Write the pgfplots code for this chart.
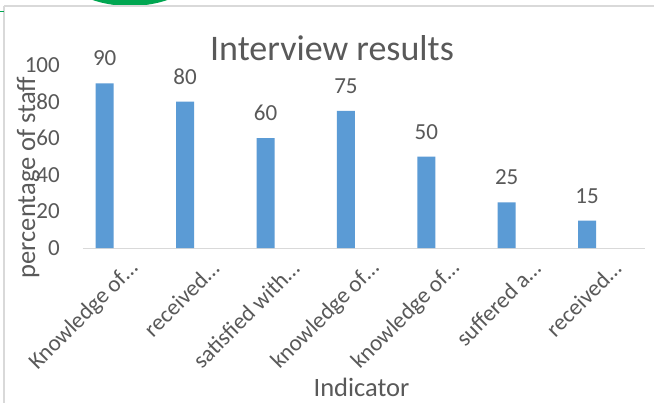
\documentclass[border=0pt]{standalone}
\usepackage{fontspec}
\setmainfont{Carlito}
\usepackage{pgfplots}
\pgfplotsset{compat=1.18}
\definecolor{txt}{HTML}{595959}
\definecolor{barblue}{HTML}{5B9BD5}
\definecolor{gridgray}{HTML}{D9D9D9}
\definecolor{logogreen}{HTML}{00A651}
\begin{document}
\begin{tikzpicture}
\useasboundingbox (0pt,0pt) rectangle (654pt,-403pt);
\fill[white] (0pt,0pt) rectangle (654pt,-403pt);
\begin{scope}
\clip (0pt,0pt) rectangle (654pt,-403pt);
\fill[logogreen] (130pt,114pt) circle (120pt);
\end{scope}
\draw[gridgray, line width=1.2pt] (4pt,-6pt) -- (654pt,-6pt);
\draw[gridgray, line width=1.2pt] (4pt,-6pt) -- (4pt,-403pt);
\draw[logogreen, line width=1pt] (0pt,-11.7pt) -- (4pt,-11.7pt);
\begin{axis}[
  at={(83pt,-248pt)}, anchor=south west,
  scale only axis, width=562pt, height=183pt,
  xmin=-0.27, xmax=6.72, ymin=0, ymax=100,
  ybar, bar width=18pt,
  axis x line*=bottom, axis y line*=left,
  x axis line style={draw=gridgray, line width=1pt, -},
  y axis line style={draw=none, -},
  major tick length=0pt,
  ytick={0,20,...,100},
  xtick={0,...,6},
  xticklabels={Knowledge of…, received…, satisfied with…, knowledge of…, knowledge of…, suffered a…, received…},
  tick label style={font=\fontsize{23}{27}\selectfont, text=txt, inner sep=0pt},
  yticklabel style={anchor=east, xshift=-23pt},
  xticklabel style={anchor=east, xshift=30pt, yshift=-17pt, rotate=45},
  nodes near coords,
  every node near coord/.append style={font=\fontsize{23}{27}\selectfont, text=txt, inner sep=0pt, anchor=south, yshift=17pt},
  /pgf/number format/assume math mode=true,
  title={Interview results},
  title style={font=\fontsize{36}{40}\selectfont, text=txt, at={(0.443,0.99)}, anchor=base, inner sep=0pt},
  xlabel={Indicator},
  xlabel style={font=\fontsize{26.5}{30}\selectfont, text=txt, at={(0.4956,-0.809)}, anchor=base, inner sep=0pt},
  ylabel={percentage of staff},
  ylabel style={font=\fontsize{26.5}{30}\selectfont, text=txt, at={(-0.0854,0.385)}, anchor=base, inner sep=0pt},
  clip=false,
]
\addplot[fill=barblue, draw=none] coordinates {(0,90) (1,80) (2,60) (3,75) (4,50) (5,25) (6,15)};
\end{axis}
\end{tikzpicture}
\end{document}
